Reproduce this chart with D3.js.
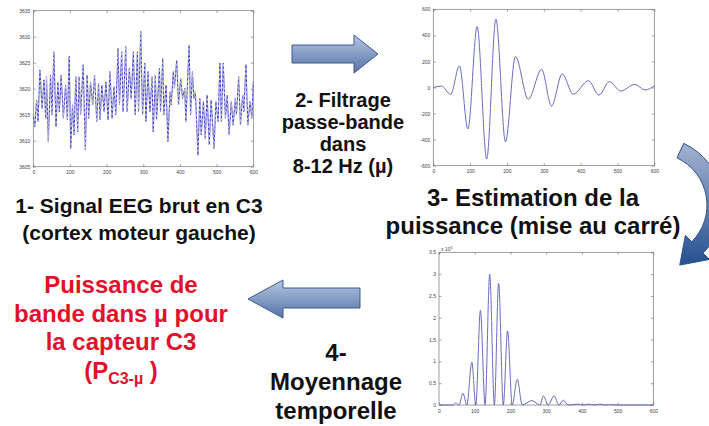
<!DOCTYPE html>
<html lang="fr">
<head>
<meta charset="UTF-8">
<title>Puissance de bande mu - C3</title>
<script src="https://d3js.org/d3.v7.min.js"></script>
<style>
  body { margin: 0; background: #fff; overflow: hidden; }
  .lbl { font-family: "Liberation Sans", Arial, sans-serif; font-weight: bold; fill: #111; }
  .red { fill: #e0112b; }
  .tick text { font-family: "Liberation Sans", Arial, sans-serif; font-size: 5px; fill: #444; }
  .tick line { stroke: #666; stroke-width: 0.6; }
  .domain { display: none; }
</style>
</head>
<body>
<svg id="fig" width="709" height="426"></svg>
<script>
// 1- raw EEG at C3 (sample index, µV)
const eegT = [0, 4, 9, 13, 18, 24, 29, 34, 36, 41, 47, 51, 56, 62, 67, 71, 76, 82, 88, 93, 98, 102,
  107, 111, 116, 121, 125, 129, 136, 142, 147, 151, 156, 162, 167, 173, 178, 182, 187, 193, 198, 204,
  209, 215, 220, 225, 231, 235, 241, 245, 252, 256, 262, 267, 273, 278, 284, 287, 293, 298, 304, 307,
  313, 318, 324, 327, 333, 336, 344, 347, 353, 356, 362, 367, 373, 376, 382, 385, 391, 396, 402, 407,
  413, 416, 425, 429, 434, 438, 442, 449, 454, 458, 464, 469, 474, 480, 485, 493, 498, 504, 509, 513,
  518, 524, 529, 534, 540, 545, 551, 554, 560, 565, 571, 574, 580, 585, 591, 596, 600];
const eegV = [3615, 3612.7, 3617.8, 3613.7, 3623.6, 3616.2, 3621.7, 3614.3, 3622.3, 3609.8, 3622.6,
  3615, 3627.1, 3612.7, 3621.3, 3615.6, 3622.6, 3614.3, 3620.7, 3614, 3626.2, 3608.5, 3616.9, 3611.1,
  3622.3, 3611.7, 3622.3, 3615, 3624.6, 3608.2, 3622.6, 3614.3, 3621.3, 3616.9, 3622.6, 3613.7, 3621,
  3614, 3620.7, 3615.6, 3621.3, 3614, 3623.3, 3614.3, 3620.4, 3615, 3627.8, 3616.9, 3627.1, 3615.6,
  3628.1, 3615.6, 3623.9, 3618.1, 3627.1, 3615, 3627.1, 3615.6, 3631, 3615, 3624.9, 3613.7, 3623.3,
  3615.6, 3622.3, 3611.7, 3622.6, 3614, 3623.9, 3615.6, 3625.8, 3615, 3620.7, 3609.8, 3619.4, 3616.9,
  3623.3, 3620.1, 3625.5, 3616.9, 3622, 3618.1, 3620.1, 3613.7, 3628.4, 3615, 3623.3, 3618.1, 3619.4,
  3607.2, 3618.1, 3611.1, 3617.5, 3610.4, 3618.8, 3609.2, 3617.8, 3608.5, 3617.5, 3613.7, 3624.9,
  3613.7, 3624.9, 3614.3, 3618.8, 3611.1, 3617.5, 3613, 3618.1, 3615, 3622.3, 3613, 3618.8, 3615.6,
  3624.6, 3613, 3617.5, 3614.3, 3621.3];

// 2- band-pass filtered 8-12 Hz (extrema of the mu oscillation)
const filtT = [0, 22, 47, 71, 94, 119, 145, 170, 196, 223, 258, 294, 321, 350, 380, 421, 450, 478, 509, 547, 575, 600];
const filtV = [0, 11, -52, 165, -318, 467, -549, 525, -416, 237, -90, 139, -142, 104, -52, 52, -58, 45, -27, 24, -19, 12];

// 3- squared signal (x 10^5)
const powT = [0, 40, 47, 56, 67, 78, 92, 103, 116, 129, 142, 155, 167, 180, 192, 205, 219, 233, 260, 283,
  292, 306, 322, 336, 348, 362, 390, 405, 420, 435, 450, 465, 480, 495, 600];
const powV = [0, 0, 0.05, 0, 0.27, 0, 0.98, 0, 2.17, 0, 3.0, 0, 2.79, 0, 1.7, 0, 0.59, 0, 0.1, 0,
  0.21, 0, 0.21, 0, 0.11, 0, 0.02, 0, 0.02, 0, 0.02, 0, 0.01, 0, 0];

const xTicks = [0, 100, 200, 300, 400, 500, 600];
const eegTicks = [3605, 3610, 3615, 3620, 3625, 3630, 3635];
const filtTicks = [-600, -400, -200, 0, 200, 400, 600];
const powTicks = [0, 0.5, 1, 1.5, 2, 2.5, 3, 3.5];

const svg = d3.select("#fig");
svg.append("rect").attr("width", 709).attr("height", 426).attr("fill", "#fff");

function panel(box, yDomain, yTicks, tx, ty, curve, raw) {
  const x = d3.scaleLinear().domain([0, 600]).range([box.x0, box.x1]);
  const y = d3.scaleLinear().domain(yDomain).range([box.y1, box.y0]);
  const g = svg.append("g");
  g.append("rect").attr("x", box.x0).attr("y", box.y0)
    .attr("width", box.x1 - box.x0).attr("height", box.y1 - box.y0)
    .attr("fill", "#fff").attr("stroke", "#777").attr("stroke-width", 0.7);

  const plain = d => String(d);
  g.append("g").attr("transform", `translate(0,${box.y1})`)
    .call(d3.axisBottom(x).tickValues(xTicks).tickSize(-2.5).tickPadding(4).tickFormat(plain));
  g.append("g").attr("transform", `translate(0,${box.y0})`)
    .call(d3.axisTop(x).tickValues(xTicks).tickSize(-2.5).tickFormat(""));
  g.append("g").attr("transform", `translate(${box.x0},0)`)
    .call(d3.axisLeft(y).tickValues(yTicks).tickSize(-2.5).tickPadding(3).tickFormat(plain));
  g.append("g").attr("transform", `translate(${box.x1},0)`)
    .call(d3.axisRight(y).tickValues(yTicks).tickSize(-2.5).tickFormat(""));

  const line = d3.line().x((d, i) => x(tx[i])).y(d => y(d)).curve(curve);
  g.append("path").datum(ty).attr("d", line)
    .attr("fill", "none").attr("stroke", raw ? "#3a3ad2" : "#5858b8").attr("stroke-width", raw ? 1 : 0.9);
  g.append("path").datum(ty).attr("d", line)
    .attr("fill", "none").attr("stroke", "#c9c9c9")
    .attr("stroke-width", raw ? 1.3 : 0.8).attr("stroke-dasharray", raw ? "2,2.5" : "0.8,9")
    .attr("stroke-opacity", raw ? 0.9 : 0.8);
  return { x, y, g };
}

panel({ x0: 33.3, x1: 253.3, y0: 10.7, y1: 166.7 }, [3605, 3635], eegTicks, eegT, eegV, d3.curveLinear, true);
panel({ x0: 433.3, x1: 654.3, y0: 9.3, y1: 165.7 }, [-600, 600], filtTicks, filtT, filtV, d3.curveMonotoneX, false);
const p3 = panel({ x0: 439, x1: 653.3, y0: 252.3, y1: 405 }, [0, 3.5], powTicks, powT, powV, d3.curveMonotoneX, false);
const ex = p3.g.append("text").attr("x", 441).attr("y", 250.5)
  .style("font-family", "Liberation Sans, Arial, sans-serif").style("font-size", "5px").attr("fill", "#444");
ex.append("tspan").text("x 10");
ex.append("tspan").attr("dy", -2).style("font-size", "4px").text("5");

// arrows
const defs = svg.append("defs");
function grad(id, c0, c1) {
  const lg = defs.append("linearGradient").attr("id", id).attr("x1", 0).attr("y1", 0).attr("x2", 0).attr("y2", 1);
  lg.append("stop").attr("offset", "0%").attr("stop-color", c0);
  lg.append("stop").attr("offset", "100%").attr("stop-color", c1);
}
grad("gArrow", "#b6c6e2", "#5473a8");
grad("gCurve", "#a4b3d1", "#24508f");

svg.append("path")
  .attr("d", "M292,45 L354,45 L354,35 L378,54 L354,73 L354,63 L292,63 Z")
  .attr("fill", "url(#gArrow)").attr("stroke", "#3f5b8c").attr("stroke-width", 1);
svg.append("path")
  .attr("d", "M360,288 L283,288 L283,280 L248,299 L283,318 L283,308 L360,308 Z")
  .attr("fill", "url(#gArrow)").attr("stroke", "#3f5b8c").attr("stroke-width", 1);

// curved arrow (clockwise, from upper right down to lower right)
(function () {
  const cx = 655, cy = 205, r1 = 52, r2 = 68, a0 = -65 * Math.PI / 180, a1 = 45 * Math.PI / 180;
  const pt = (r, a) => [cx + r * Math.cos(a), cy + r * Math.sin(a)];
  const [ox0, oy0] = pt(r2, a0), [ox1, oy1] = pt(r2, a1);
  const [ix0, iy0] = pt(r1, a0), [ix1, iy1] = pt(r1, a1);
  const [hx0, hy0] = pt(r2 + 9, a1), [hx1, hy1] = pt(r1 - 9, a1);
  const [mx, my] = pt((r1 + r2) / 2, a1);
  const tip = [mx - 25 * Math.sin(a1), my + 25 * Math.cos(a1)];
  const d = `M${ox0},${oy0} A${r2},${r2} 0 0 1 ${ox1},${oy1} L${hx0},${hy0} L${tip[0]},${tip[1]} ` +
    `L${hx1},${hy1} L${ix1},${iy1} A${r1},${r1} 0 0 0 ${ix0},${iy0} Z`;
  svg.append("path").attr("d", d).attr("fill", "url(#gCurve)").attr("stroke", "#2f4f86").attr("stroke-width", 1);
})();

// text blocks
function block(lines, cx, y0, dy, size, cls) {
  lines.forEach((t, i) => {
    svg.append("text").attr("class", "lbl " + (cls || "")).attr("x", cx).attr("y", y0 + i * dy)
      .attr("text-anchor", "middle").style("font-size", size + "px").text(t);
  });
}
block(["1- Signal EEG brut en C3", "(cortex moteur gauche)"], 139, 213, 27, 21);
block(["2- Filtrage", "passe-bande", "dans", "8-12 Hz (µ)"], 343, 107, 22, 20);
block(["3- Estimation de la", "puissance (mise au carré)"], 533, 206, 28, 24);
block(["4-", "Moyennage", "temporelle"], 336, 361, 29, 24);
block(["Puissance de", "bande dans µ pour", "la capteur C3"], 121, 293, 28.5, 24, "red");
const pc = svg.append("text").attr("class", "lbl red").attr("x", 121).attr("y", 379)
  .attr("text-anchor", "middle").style("font-size", "24px");
pc.append("tspan").text("(P");
pc.append("tspan").attr("dy", 5).style("font-size", "16px").text("C3-µ");
pc.append("tspan").attr("dy", -5).text(" )");
</script>
</body>
</html>
